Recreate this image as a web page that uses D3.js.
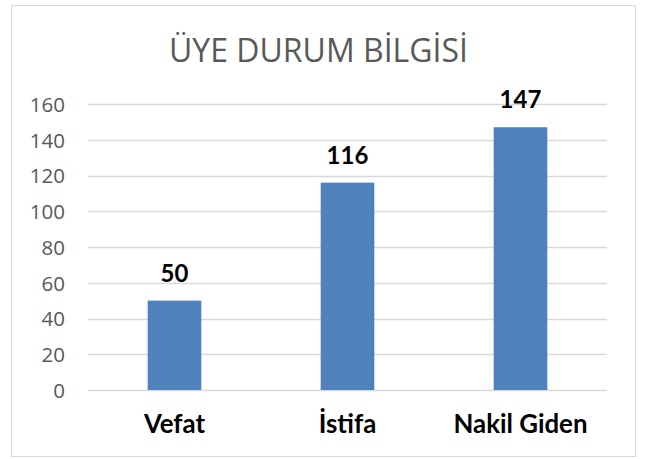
<!DOCTYPE html>
<html><head><meta charset="utf-8">
<script src="https://cdn.jsdelivr.net/npm/d3@7"></script>
<style>
html,body{margin:0;padding:0;background:#fff;}
svg{display:block;}
</style></head>
<body>
<svg id="chart" width="656" height="459"></svg>
<script>
const title = "ÜYE DURUM BİLGİSİ";
const categories = ["Vefat", "İstifa", "Nakil Giden"];
const values = [50, 116, 147];
const yTicks = [0, 20, 40, 60, 80, 100, 120, 140, 160];

const svg = d3.select("#chart");
const plot = {left: 88, right: 607, top: 104, bottom: 390};

// outer border
svg.append("rect").attr("x", 11.5).attr("y", 5.5).attr("width", 624).attr("height", 451)
  .attr("fill", "#fff").attr("stroke", "#d9d9d9").attr("stroke-width", 1);

const x = d3.scaleBand().domain(categories).range([plot.left, plot.right]).paddingInner(0.69).paddingOuter(0.345);
const y = d3.scaleLinear().domain([0, 160]).range([plot.bottom, plot.top]);

// gridlines
svg.append("g").selectAll("line").data(yTicks).join("line")
  .attr("x1", plot.left).attr("x2", plot.right)
  .attr("y1", d => Math.round(y(d)) + 0.5).attr("y2", d => Math.round(y(d)) + 0.5)
  .attr("stroke", "#d9d9d9").attr("stroke-width", 1.3);

// y axis labels
const yAxis = d3.axisLeft(y).tickValues(yTicks).tickSize(0).tickPadding(23);
const gy = svg.append("g").attr("transform", `translate(${plot.left},0)`).call(yAxis);
gy.select(".domain").remove();
gy.selectAll("text").attr("font-family", "'Open Sans', sans-serif").attr("font-size", 20.5)
  .attr("fill", "#595959").attr("dy", "0.36em");

// bars
svg.append("g").selectAll("rect").data(values).join("rect")
  .attr("x", (d, i) => x(categories[i]))
  .attr("width", x.bandwidth())
  .attr("y", d => y(d))
  .attr("height", d => y(0) - y(d))
  .attr("fill", "#4f81bd");

// value labels
svg.append("g").selectAll("text").data(values).join("text")
  .attr("x", (d, i) => x(categories[i]) + x.bandwidth() / 2)
  .attr("y", d => y(d) - 19)
  .attr("text-anchor", "middle")
  .attr("font-family", "Lato, sans-serif").attr("font-weight", "bold").attr("font-size", 24)
  .attr("fill", "#000").text(d => d);

// category labels
const xAxis = d3.axisBottom(x).tickSize(0).tickPadding(0);
const gx = svg.append("g").attr("transform", `translate(0,${plot.bottom})`).call(xAxis);
gx.select(".domain").remove();
gx.selectAll("text").attr("font-family", "Lato, sans-serif").attr("font-weight", "bold")
  .attr("font-size", 25).attr("fill", "#000").attr("y", 43).attr("dy", 0);
// fit widths of category labels to reference
const targetCat = 134; // width of "Nakil Giden"
const nakil = gx.selectAll("text").filter(d => d === "Nakil Giden").node();
const cw = nakil.getComputedTextLength();
const cs = 25 * targetCat / cw;
gx.selectAll("text").attr("font-size", Math.min(28, Math.max(20, cs)));

// title
const t = svg.append("text").attr("x", 318.5).attr("y", 62)
  .attr("text-anchor", "middle")
  .attr("font-family", "'Open Sans', sans-serif").attr("font-size", 32)
  .attr("fill", "#595959").text(title);
const tw = t.node().getComputedTextLength();
t.attr("font-size", 32 * 299 / tw);
</script>
</body></html>
